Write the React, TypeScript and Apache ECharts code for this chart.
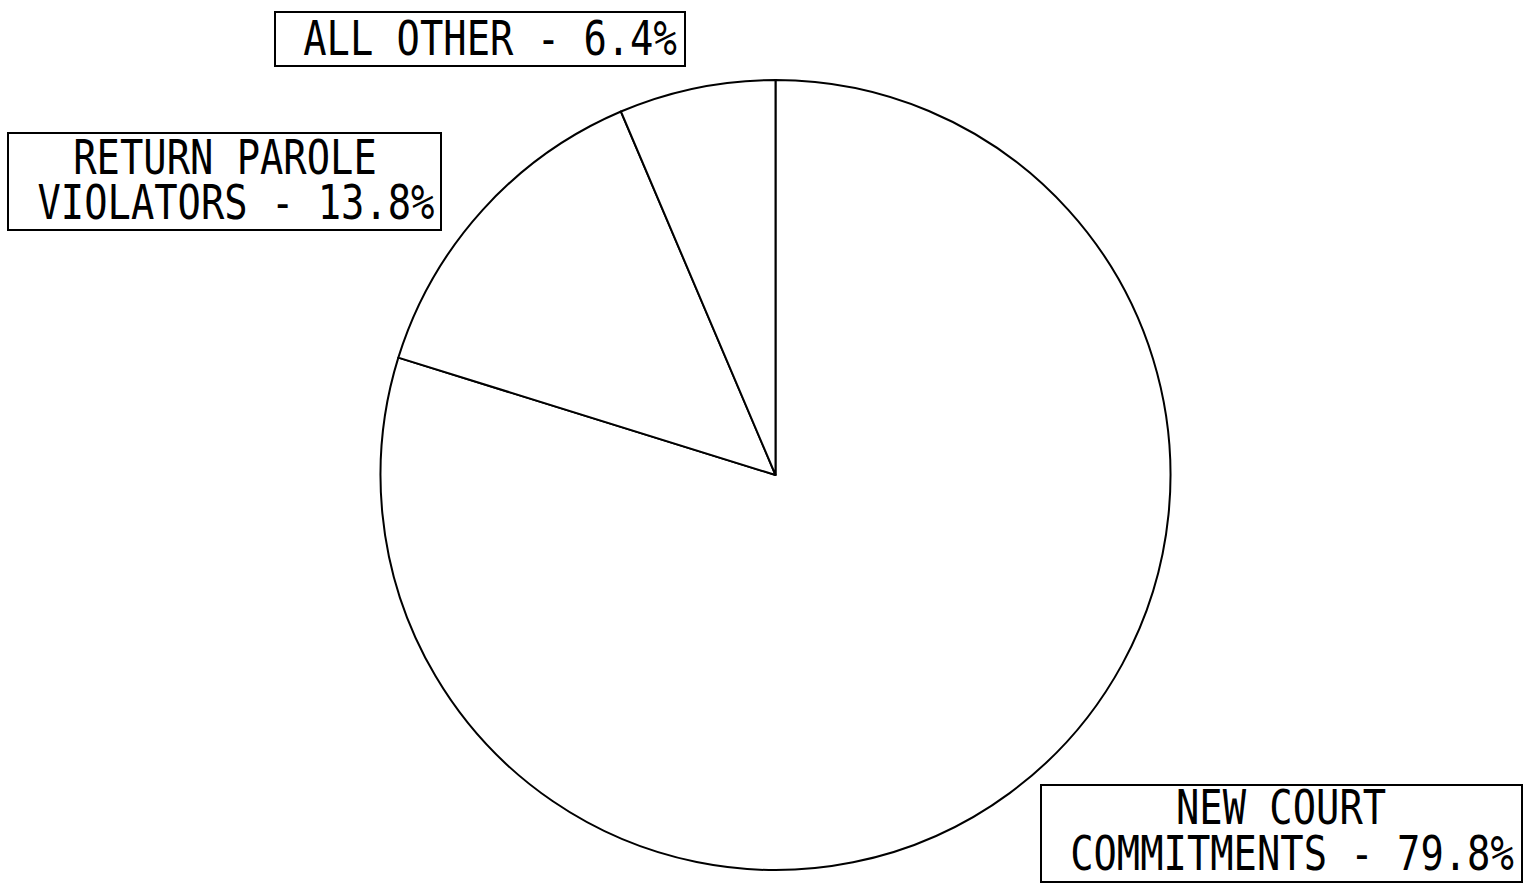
import React, { useEffect, useRef } from "react";
import * as echarts from "echarts";

const categories = ["NEW COURT COMMITMENTS", "RETURN PAROLE VIOLATORS", "ALL OTHER"];
const values = [79.8, 13.8, 6.4];
// label text split into lines (last line gets " - value%")
const labelLines = [["NEW COURT", "COMMITMENTS"], ["RETURN PAROLE", "VIOLATORS"], ["ALL OTHER"]];

// label box layouts (positions only)
const boxes = [
  { x: 1041, y: 785, w: 481, h: 97, centers: [1281, 1292], ys: [807, 853] },
  { x: 8, y: 133, w: 433, h: 97, centers: [225, 236], ys: [157, 202] },
  { x: 275, y: 12, w: 410, h: 54, centers: [490], ys: [38] },
];

const FONT = "'DejaVu Sans Mono', monospace";

export default function App() {
  const ref = useRef<HTMLDivElement>(null);
  useEffect(() => {
    document.body.style.margin = "0";
    const chart = echarts.init(ref.current!, null, { renderer: "svg" });
    const graphics: any[] = [];
    categories.forEach((cat, i) => {
      const b = boxes[i];
      graphics.push({
        type: "rect",
        shape: { x: b.x, y: b.y, width: b.w, height: b.h },
        style: { fill: "#fff", stroke: "#000", lineWidth: 2 },
        z: 10,
      });
      const lines = labelLines[i].slice();
      lines[lines.length - 1] = `${lines[lines.length - 1]} - ${values[i]}%`;
      lines.forEach((ln, j) => {
        graphics.push({
          type: "text",
          x: b.centers[j],
          y: b.ys[j],
          scaleX: 0.97,
          scaleY: 1.2,
          z: 11,
          style: {
            text: ln,
            x: 0,
            y: 0,
            align: "center",
            verticalAlign: "middle",
            font: `40px ${FONT}`,
            fill: "#000",
          },
        });
      });
    });
    chart.setOption({
      animation: false,
      backgroundColor: "#fff",
      series: [
        {
          type: "pie",
          center: [775.5, 475],
          radius: 395,
          startAngle: 90,
          clockwise: true,
          silent: true,
          label: { show: false },
          labelLine: { show: false },
          itemStyle: { color: "#fff", borderColor: "#000", borderWidth: 2 },
          emphasis: { disabled: true },
          data: categories.map((c, i) => ({ name: c, value: values[i] })),
        },
      ],
      graphic: graphics,
    });
    return () => chart.dispose();
  }, []);
  return <div ref={ref} style={{ width: 1534, height: 891 }} />;
}
